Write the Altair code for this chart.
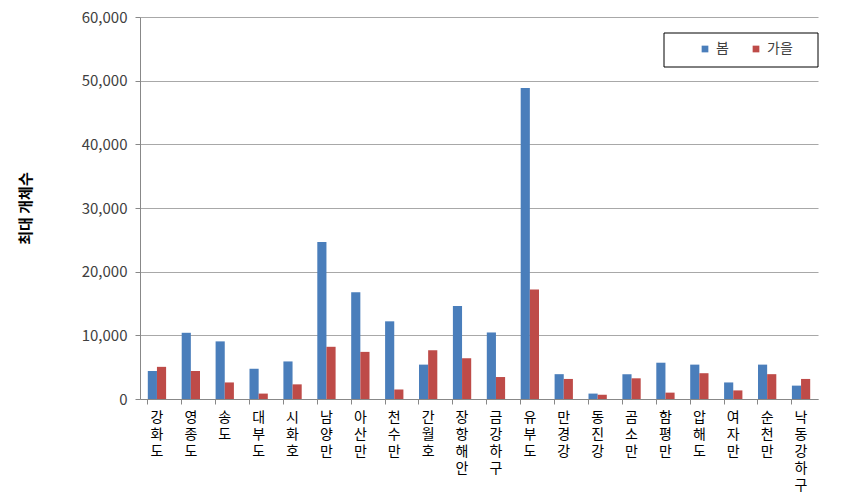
import altair as alt
import pandas as pd

sites = ["강화도", "영종도", "송도", "대부도", "시화호", "남양만", "아산만", "천수만", "간월호", "장항해안",
         "금강하구", "유부도", "만경강", "동진강", "곰소만", "함평만", "압해도", "여자만", "순천만", "낙동강하구"]
spring = [4400, 10400, 9050, 4750, 5900, 24650, 16750, 12200, 5400, 14600,
          10450, 48850, 3900, 850, 3900, 5700, 5400, 2600, 5400, 2100]
autumn = [5050, 4400, 2600, 850, 2300, 8200, 7400, 1500, 7650, 6400,
          3450, 17200, 3150, 650, 3250, 1000, 4050, 1350, 3900, 3150]
seasons = ["봄", "가을"]
colors = ["#4a7ebb", "#be4b48"]

rows = []
for s, a, b in zip(sites, spring, autumn):
    rows.append({"site": s, "season": "봄", "value": a})
    rows.append({"site": s, "season": "가을", "value": b})
df = pd.DataFrame(rows)

FONT = "Noto Sans CJK KR"

bars = alt.Chart(df).mark_bar().encode(
    x=alt.X("site:N", sort=sites, title=None,
            scale=alt.Scale(paddingInner=0.46, paddingOuter=0.23),
            axis=alt.Axis(labelAngle=0, labelExpr="split(datum.label, '')",
                          labelBaseline="top", labelAlign="center",
                          labelFont=FONT, labelFontSize=14, labelColor="#000000",
                          labelLineHeight=17, labelPadding=6,
                          bandPosition=0, tickSize=5, tickColor="#888888",
                          domainColor="#888888", grid=False)),
    xOffset=alt.XOffset("season:N", sort=seasons),
    y=alt.Y("value:Q", title="최대 개체수",
            scale=alt.Scale(domain=[0, 60000]),
            axis=alt.Axis(values=[0, 10000, 20000, 30000, 40000, 50000, 60000],
                          format=",.0f", labelFont=FONT, labelFontSize=15,
                          labelColor="#404040", labelPadding=8,
                          tickSize=5, tickColor="#888888",
                          domainColor="#888888",
                          gridColor="#a8a8a8", gridWidth=1.2,
                          titleFont=FONT, titleFontSize=15, titleFontWeight="bold",
                          titleColor="#000000", titlePadding=48)),
    color=alt.Color("season:N", sort=seasons,
                    scale=alt.Scale(domain=seasons, range=colors),
                    legend=alt.Legend(title=None, orient="none", legendX=558, legendY=25,
                                      direction="horizontal", symbolType="square",
                                      symbolSize=45, labelFont=FONT, labelFontSize=14,
                                      labelColor="#404040", columnPadding=20,
                                      padding=0, symbolStrokeWidth=0)),
)

# legend frame (decoration)
frame = alt.Chart(pd.DataFrame({"k": [0]})).mark_rect(
    fill="white", stroke="#000000", strokeWidth=1
).encode(x=alt.value(524), x2=alt.value(678), y=alt.value(16), y2=alt.value(50))

chart = alt.layer(bars, frame).properties(
    width=678, height=382,
    autosize=alt.AutoSizeParams(type="none"),
    padding={"left": 140, "top": 17, "right": 29, "bottom": 101},
).configure_view(stroke=None)

chart.save("out.html", embed_options={"renderer": "svg", "actions": False})
